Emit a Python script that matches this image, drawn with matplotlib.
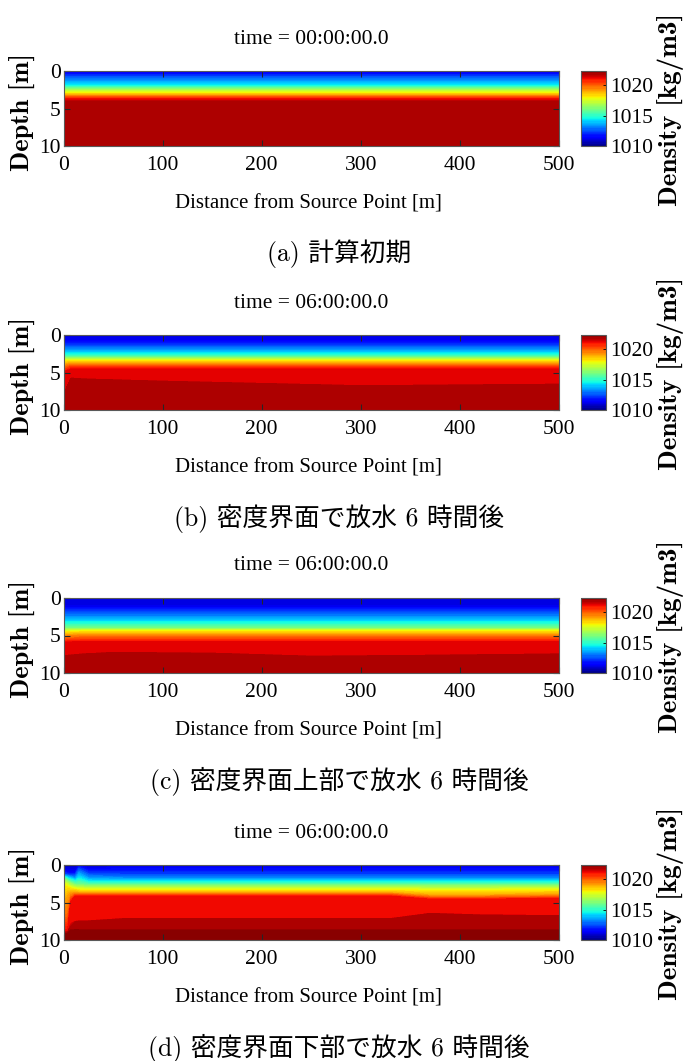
import numpy as np
import matplotlib
matplotlib.use("Agg")
import matplotlib.pyplot as plt

# ---------------------------------------------------------------------------
# Data: density field [kg/m3].
# Each panel: stations along the channel (m), density of each isopycnal row,
# and the depth (m) of that row at every station.
# ---------------------------------------------------------------------------

rho_min, rho_max = 1010.0, 1022.3
cbar_ticks = [1010, 1015, 1020]
x_ticks = [0, 100, 200, 300, 400, 500]
y_ticks = [0, 5, 10]

titles = ["time = 00:00:00.0", "time = 06:00:00.0",
          "time = 06:00:00.0", "time = 06:00:00.0"]
captions = ["(a) 計算初期",
            "(b) 密度界面で放水 6 時間後",
            "(c) 密度界面上部で放水 6 時間後",
            "(d) 密度界面下部で放水 6 時間後"]

# (a) initial state, uniform along the channel
dist_a = [0, 500]
rho_a = [1010.9, 1011.3, 1012.4, 1013.1, 1014.5, 1016.1, 1018.0, 1019.5,
         1021.0, 1021.82, 1021.82]
depth_a = [
    [0.0, 0.0],
    [0.3, 0.3],
    [0.8, 0.8],
    [1.2, 1.2],
    [2.0, 2.0],
    [2.4, 2.4],
    [3.0, 3.0],
    [3.4, 3.4],
    [3.8, 3.8],
    [4.2, 4.2],
    [10.0, 10.0],
]

# (b) discharge at the interface
dist_b = [0, 4, 8, 20, 100, 200, 300, 400, 500]
rho_b = [1011.0, 1011.4, 1012.1, 1013.1, 1014.5, 1016.1, 1018.0, 1019.5,
         1020.4, 1021.25, 1021.27, 1021.82, 1021.82]
depth_b = [
    [0.0, 0.0, 0.0, 0.0, 0.0, 0.0, 0.0, 0.0, 0.0],
    [0.9, 0.9, 0.9, 0.9, 0.9, 0.9, 0.9, 0.9, 0.9],
    [1.3, 1.3, 1.3, 1.3, 1.3, 1.3, 1.3, 1.3, 1.3],
    [1.9, 1.9, 1.9, 1.9, 1.9, 1.9, 1.9, 1.9, 1.9],
    [2.6, 2.6, 2.6, 2.6, 2.6, 2.6, 2.6, 2.6, 2.6],
    [3.1, 3.1, 3.1, 3.1, 3.1, 3.1, 3.1, 3.1, 3.1],
    [3.6, 3.5, 3.5, 3.5, 3.5, 3.5, 3.5, 3.5, 3.5],
    [4.5, 4.1, 4.0, 4.0, 4.0, 4.0, 4.0, 4.0, 4.0],
    [4.9, 4.5, 4.3, 4.3, 4.3, 4.3, 4.3, 4.3, 4.3],
    [5.2, 4.9, 4.7, 4.7, 4.7, 4.7, 4.7, 4.7, 4.7],
    [8.3, 6.9, 5.8, 5.9, 6.2, 6.5, 6.8, 6.7, 6.6],
    [8.4, 7.0, 5.9, 6.0, 6.3, 6.6, 6.9, 6.8, 6.7],
    [10.0, 10.0, 10.0, 10.0, 10.0, 10.0, 10.0, 10.0, 10.0],
]

# (c) discharge above the interface
dist_c = [0, 3, 20, 50, 150, 250, 350, 500]
rho_c = [1010.9, 1011.2, 1012.1, 1013.1, 1014.5, 1016.1, 1018.0, 1019.5,
         1020.4, 1021.25, 1021.27, 1021.82, 1021.82]
depth_c = [
    [0.0, 0.0, 0.0, 0.0, 0.0, 0.0, 0.0, 0.0],
    [1.2, 1.2, 1.2, 1.2, 1.2, 1.2, 1.2, 1.2],
    [1.7, 1.7, 1.7, 1.7, 1.7, 1.7, 1.7, 1.7],
    [2.5, 2.5, 2.5, 2.5, 2.5, 2.5, 2.5, 2.5],
    [3.3, 3.3, 3.3, 3.3, 3.3, 3.3, 3.3, 3.3],
    [4.1, 4.1, 4.1, 4.1, 4.1, 4.1, 4.1, 4.1],
    [4.8, 4.6, 4.5, 4.5, 4.5, 4.5, 4.5, 4.5],
    [5.4, 5.2, 5.1, 5.1, 5.1, 5.1, 5.1, 5.1],
    [5.8, 5.7, 5.6, 5.6, 5.6, 5.6, 5.6, 5.6],
    [6.1, 6.0, 6.0, 6.0, 6.0, 6.0, 6.0, 6.0],
    [7.7, 7.7, 7.5, 7.3, 7.4, 7.8, 7.7, 7.5],
    [7.8, 7.8, 7.6, 7.4, 7.5, 7.9, 7.8, 7.6],
    [10.0, 10.0, 10.0, 10.0, 10.0, 10.0, 10.0, 10.0],
]

# (d) discharge below the interface (plume near the source)
dist_d = [0, 2, 5, 8, 12, 16, 25, 60, 200, 330, 370, 420, 500]
rho_d = [1010.6, 1011.35, 1012.3, 1013.4, 1014.5, 1016.1, 1018.0, 1019.0,
         1019.9, 1021.12, 1021.14, 1021.8, 1021.82, 1022.25, 1022.25]
depth_d = [
    [0.0, 0.0, 0.0, 0.0, 0.0, 0.0, 0.0, 0.0, 0.0, 0.0, 0.0, 0.0, 0.0],
    [0.8, 0.9, 1.0, 1.0, 1.0, 0.1, 0.6, 0.4, 0.4, 0.4, 0.4, 0.4, 0.4],
    [1.3, 1.3, 1.4, 1.4, 1.4, 0.6, 1.2, 1.3, 1.3, 1.3, 1.3, 1.3, 1.3],
    [1.7, 1.5, 1.6, 1.7, 1.9, 1.2, 1.8, 1.9, 1.9, 1.9, 1.9, 1.9, 1.9],
    [2.0, 1.7, 1.9, 2.0, 2.2, 1.9, 2.3, 2.3, 2.3, 2.3, 2.3, 2.3, 2.3],
    [2.6, 2.0, 2.3, 2.5, 2.7, 2.7, 2.8, 2.8, 2.8, 2.8, 2.8, 2.8, 2.8],
    [3.3, 2.8, 3.0, 3.2, 3.3, 3.4, 3.4, 3.4, 3.4, 3.4, 3.5, 3.5, 3.4],
    [4.0, 5.0, 4.0, 3.7, 3.7, 3.8, 3.8, 3.8, 3.8, 3.8, 4.1, 4.1, 4.0],
    [6.0, 8.0, 6.5, 4.4, 4.0, 4.0, 4.0, 4.0, 4.0, 4.0, 4.4, 4.4, 4.3],
    [8.8, 9.0, 8.8, 5.0, 4.3, 4.3, 4.3, 4.3, 4.3, 4.3, 4.7, 4.7, 4.6],
    [8.9, 9.05, 8.9, 7.8, 7.6, 7.5, 7.5, 7.2, 7.2, 7.2, 6.5, 6.7, 6.8],
    [9.0, 9.1, 9.0, 8.3, 7.7, 7.6, 7.6, 7.3, 7.3, 7.3, 6.6, 6.8, 6.9],
    [9.1, 9.2, 9.1, 8.6, 8.6, 8.7, 8.7, 8.7, 8.7, 8.7, 8.7, 8.7, 8.7],
    [9.3, 9.3, 9.3, 9.0, 8.8, 8.8, 8.8, 8.8, 8.8, 8.8, 8.8, 8.8, 8.8],
    [10.0, 10.0, 10.0, 10.0, 10.0, 10.0, 10.0, 10.0, 10.0, 10.0, 10.0, 10.0, 10.0],
]

panels = [
    (dist_a, rho_a, depth_a),
    (dist_b, rho_b, depth_b),
    (dist_c, rho_c, depth_c),
    (dist_d, rho_d, depth_d),
]

# ---------------------------------------------------------------------------
# Layout (pixel positions on a 690 x 1061 canvas)
# ---------------------------------------------------------------------------
W, H = 690, 1061
AX_LEFT, AX_RIGHT = 63.5, 559
CB_LEFT, CB_RIGHT = 581, 606
AX_TOPS = [71, 335, 598, 865]
AX_H = 75

SERIF = ["Liberation Serif", "DejaVu Serif"]
plt.rcParams["font.family"] = SERIF


def rect(left, top, right, bottom):
    return [left / W, 1 - bottom / H, (right - left) / W, (bottom - top) / H]


def fig_xy(px, py):
    return px / W, 1 - py / H


fig = plt.figure(figsize=(W / 100, H / 100), dpi=100)
levels = np.linspace(rho_min, rho_max, 65)

for i, (dist, rho, depth) in enumerate(panels):
    top = AX_TOPS[i]
    bot = top + AX_H
    ax = fig.add_axes(rect(AX_LEFT, top, AX_RIGHT, bot))
    cax = fig.add_axes(rect(CB_LEFT, top, CB_RIGHT, bot))

    dist = np.asarray(dist, float)
    rho = np.asarray(rho, float)
    depth = np.asarray(depth, float)
    X = np.tile(dist, (len(rho), 1))
    Z = np.tile(rho[:, None], (1, len(dist)))

    cs = ax.contourf(X, depth, Z, levels=levels, cmap="jet")
    cs.set_edgecolor("face")

    ax.set_xlim(0, 500)
    ax.set_ylim(10, 0)
    ax.set_xticks(x_ticks)
    ax.set_yticks(y_ticks)
    ax.tick_params(axis="both", direction="in", top=True, right=True,
                   length=4, width=0.8, labelsize=15.5, color="0.15")
    ax.tick_params(axis="x", pad=7)
    ax.tick_params(axis="y", pad=2)
    for sp in ax.spines.values():
        sp.set_color("0.35")
        sp.set_linewidth(0.8)

    cb = fig.colorbar(cs, cax=cax, ticks=cbar_ticks)
    cb.outline.set_edgecolor("0.35")
    cb.outline.set_linewidth(0.8)
    cax.tick_params(direction="in", length=2, width=0.6, labelsize=15.5, pad=3)

    # texts
    mid = (top + bot) / 2
    ax_mid = (AX_LEFT + AX_RIGHT) / 2
    fig.text(*fig_xy(ax_mid, top - 32), titles[i], ha="center", va="center",
             fontsize=15.5)
    fig.text(*fig_xy(ax_mid - 3, bot + 58), "Distance from Source Point [m]",
             ha="center", va="center", fontsize=15)
    fig.text(*fig_xy(23, mid + 4), "Depth [m]", rotation=90,
             ha="center", va="center", fontsize=19, family=["cmb10", "DejaVu Serif"])
    fig.text(*fig_xy(671, mid + 1), "Density [kg/m3]", rotation=90,
             ha="center", va="center", fontsize=19.5, family=["cmb10", "DejaVu Serif"])
    fig.text(*fig_xy(339, bot + 108), captions[i], ha="center", va="center",
             fontsize=18.5, family=["cmr10", "Noto Sans CJK JP"])

fig.savefig("out.png", dpi=100)
